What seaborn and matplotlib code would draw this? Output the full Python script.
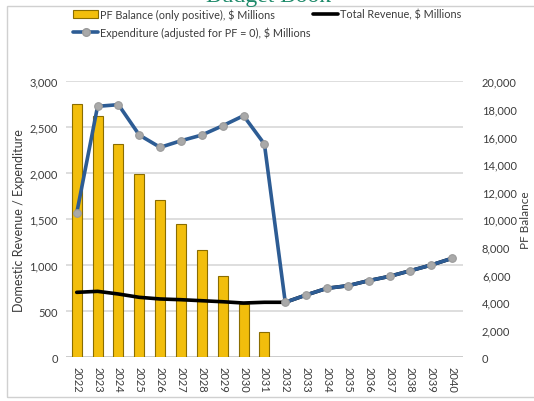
import matplotlib
matplotlib.use("Agg")
import matplotlib.pyplot as plt
from matplotlib.lines import Line2D
from matplotlib.patches import Patch, Rectangle
import numpy as np
import pandas as pd
import seaborn as sns

years = [str(y) for y in range(2022, 2041)]
pf_years = years[:10]
pf_balance = [18350, 17460, 15450, 13280, 11420, 9660, 7800, 5870, 3860, 1810]
expenditure = [1568, 2728, 2746, 2416, 2282, 2354, 2416, 2517, 2626, 2318,
               598, 677, 750, 778, 833, 880, 941, 1003, 1076]
revenue = [706, 717, 688, 652, 634, 626, 615, 604, 590, 598,
           598, 677, 750, 778, 833, 880, 941, 1003, 1076]
left_ticks = [0, 500, 1000, 1500, 2000, 2500, 3000]
right_ticks = [0, 2000, 4000, 6000, 8000, 10000, 12000, 14000, 16000, 18000, 20000]

sns.set_theme(style="white")
plt.rcParams['font.family'] = ['Lato', 'DejaVu Sans']

W, H = 534, 402
fig = plt.figure(figsize=(W / 100, H / 100), dpi=100)
ax = fig.add_axes([66.3 / W, 1 - 358.3 / H, (462.5 - 66.3) / W, (358.3 - 82.3) / H])
ax2 = ax.twinx()
ax.set_zorder(ax2.get_zorder() + 1)
ax.patch.set_visible(False)

df_line = pd.DataFrame({"pos": np.arange(len(years)), "year": years,
                        "expenditure": expenditure, "revenue": revenue})
df_bar = pd.DataFrame({"year": pf_years, "pf": pf_balance})

gold = "#F2BE0C"
sns.barplot(data=df_bar, x="year", y="pf", order=years, ax=ax2, color=gold,
            width=0.48, edgecolor="#8A6D00", linewidth=0.8, saturation=1)

sns.lineplot(data=df_line, x="pos", y="revenue", ax=ax, color="black", lw=2.6)
sns.lineplot(data=df_line, x="pos", y="expenditure", ax=ax, color="#2D5C94", lw=2.6,
             marker="o", markersize=5.5, markerfacecolor="#A9A9A9",
             markeredgecolor="#9A9A9A", markeredgewidth=0.8)

ax.set_xlim(-0.5, len(years) - 0.5)
ax.set_ylim(0, 3000)
ax2.set_ylim(0, 20000)
ax.set_yticks(left_ticks)
ax.set_yticklabels([f"{v:,}" for v in left_ticks])
ax2.set_yticks(right_ticks)
ax2.set_yticklabels([f"{v:,}" for v in right_ticks])
ax.set_xticks(np.arange(len(years)))
ax.set_xticklabels(years, rotation=270)

txtc = "#3c3c3c"
for a in (ax, ax2):
    for s in a.spines.values():
        s.set_visible(False)
    a.tick_params(axis="both", length=0, labelsize=8, labelcolor=txtc)
    a.set_xlabel("")
ax.tick_params(axis="y", pad=6)
ax2.tick_params(axis="y", pad=14)
ax.tick_params(axis="x", pad=6)
ax2.grid(False)
ax.grid(False)
for v in left_ticks:
    ax2.axhline(v / 3000 * 20000, color="#D4D4D4" if v else "#BEBEBE", lw=1.1, zorder=0)

ax.set_ylabel("Domestic Revenue / Expenditure", fontsize=9, color=txtc, labelpad=3)
ax2.set_ylabel("PF Balance", fontsize=8.5, color=txtc, labelpad=2)

# border and clipped title
fig.patches.append(Rectangle((7 / W, 1 - 398 / H), (W + 5) / W, (398 - 7) / H,
                             transform=fig.transFigure, fill=False,
                             edgecolor="#D0D0D0", lw=1))
fig.text(268 / W, 1 - 2 / H, "Budget Book", ha="center", va="baseline",
         fontsize=17, color="#1E8A6A", family="Liberation Serif")

h_pf = Patch(facecolor=gold, edgecolor="#8A6D00", linewidth=0.8)
h_exp = Line2D([], [], color="#2D5C94", lw=2.6, marker="o", markersize=5.5,
               markerfacecolor="#A9A9A9", markeredgecolor="#9A9A9A")
h_rev = Line2D([], [], color="black", lw=2.6)
leg1 = fig.legend([h_pf, h_exp],
                  ["PF Balance (only positive), $ Millions",
                   "Expenditure (adjusted for PF = 0), $ Millions"],
                  loc="upper left", bbox_to_anchor=(68 / W, 1 - 4 / H), frameon=False,
                  fontsize=7.8, handlelength=2.3, handletextpad=0.2, labelspacing=0.6,
                  borderpad=0, labelcolor=txtc)
leg2 = fig.legend([h_rev], ["Total Revenue, $ Millions"],
                  loc="upper left", bbox_to_anchor=(308 / W, 1 - 4 / H), frameon=False,
                  fontsize=7.8, handlelength=2.3, handletextpad=0.2, borderpad=0,
                  labelcolor=txtc)

fig.savefig("out.png", dpi=100)
